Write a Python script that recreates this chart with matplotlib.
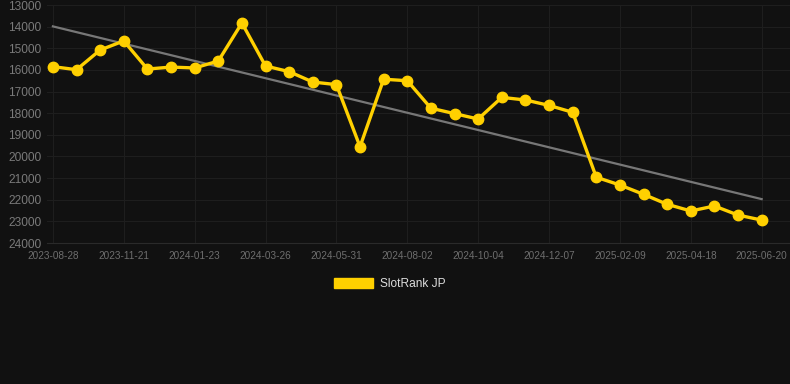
import matplotlib
matplotlib.use("Agg")
import matplotlib.pyplot as plt
from matplotlib.patches import Patch
import numpy as np

plt.rcParams['font.family'] = ['Liberation Sans', 'DejaVu Sans']

# Data (rank values)
ranks = [15850, 15990, 15080, 14660, 15960, 15870, 15910, 15590, 13830, 15820,
         16080, 16560, 16680, 19550, 16430, 16500, 17770, 18020, 18270, 17270,
         17390, 17640, 17960, 20960, 21320, 21750, 22210, 22520, 22290, 22710,
         22940]
tick_labels = ["2023-08-28", "2023-11-21", "2024-01-23", "2024-03-26", "2024-05-31",
               "2024-08-02", "2024-10-04", "2024-12-07", "2025-02-09", "2025-04-18",
               "2025-06-20"]
y_ticks = list(range(13000, 24001, 1000))

bg = "#111111"
yellow = "#FFD000"

fig = plt.figure(figsize=(7.9, 3.84), dpi=100, facecolor=bg)
ax = fig.add_axes([47/790, 141/384, 1 - 47/790, 238/384])
ax.set_facecolor(bg)

x = np.arange(len(ranks))

# trend line (linear fit)
k, b = np.polyfit(x, ranks, 1)
ax.plot(x, k * x + b, color="#777777", lw=1.6, zorder=2)

ax.plot(x, ranks, color=yellow, lw=2.4, marker="o", ms=7.5,
        markerfacecolor=yellow, markeredgecolor=yellow, zorder=3)

ax.set_ylim(24000, 13000)
ax.set_yticks(y_ticks)
ax.set_xlim(-0.25, 31.2)
ax.set_xticks(x[::3])
ax.set_xticklabels(tick_labels)

ax.grid(True, color="#1e1e1e", lw=0.8)
ax.set_axisbelow(True)
for s in ["top", "right", "left"]:
    ax.spines[s].set_visible(False)
ax.spines["bottom"].set_color("#2a2a2a")
ax.tick_params(axis="y", length=0, pad=4, labelsize=8.6, labelcolor="#7a7a7a")
ax.tick_params(axis="x", length=0, pad=6, labelsize=7.2, labelcolor="#6e6e6e")

fig.legend(handles=[Patch(color=yellow, label="SlotRank JP")],
           loc="center", bbox_to_anchor=(390/790, 1 - 284/384),
           frameon=False, fontsize=8.6, labelcolor="#dddddd",
           handlelength=3.3, handleheight=1.0, handletextpad=0.6)

fig.savefig("out.png", dpi=100, facecolor=bg)
